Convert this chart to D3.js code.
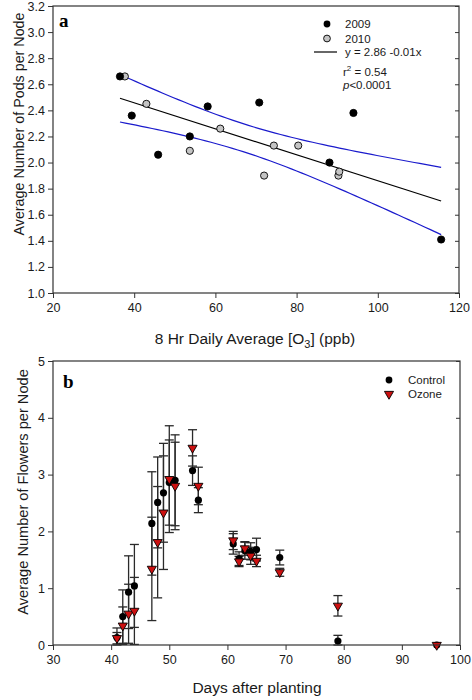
<!DOCTYPE html>
<html>
<head>
<meta charset="utf-8">
<script src="https://cdn.jsdelivr.net/npm/d3@7"></script>
<style>
  html, body { margin: 0; padding: 0; background: #fff; }
  svg { display: block; font-family: Arial, "Liberation Sans", sans-serif; }
</style>
</head>
<body>
<svg id="chart" width="472" height="700"></svg>
<script>
// ---------- Panel a data ----------
const o3_2009   = [36.5, 39.4, 45.9, 53.7, 58.1, 70.8, 88.1, 94.0, 115.6];
const pods_2009 = [2.66, 2.36, 2.06, 2.20, 2.43, 2.46, 2.00, 2.38, 1.41];
const o3_2010   = [37.7, 43.0, 53.7, 61.2, 72.0, 74.4, 80.4, 90.3, 90.5];
const pods_2010 = [2.66, 2.45, 2.09, 2.26, 1.90, 2.13, 2.13, 1.90, 1.93];
const xTicksA = [20, 40, 60, 80, 100, 120];
const yTicksA = [1.0, 1.2, 1.4, 1.6, 1.8, 2.0, 2.2, 2.4, 2.6, 2.8, 3.0, 3.2];
const tCrit = 2.12; // t(0.975, df=16)

// ---------- Panel b data ----------
const days       = [41, 42, 43, 44, 47, 48, 49, 50, 51, 54, 55, 61, 62, 63, 64, 65, 69, 79, 96];
const control    = [0.13, 0.50, 0.93, 1.04, 2.14, 2.51, 2.68, 2.86, 2.90, 3.07, 2.55, 1.78, 1.52, 1.66, 1.65, 1.68, 1.54, 0.07, 0.00];
const controlSE  = [0.17, 0.47, 0.64, 0.73, 0.91, 0.80, 0.87, 0.75, 0.80, 0.26, 0.22, 0.18, 0.12, 0.15, 0.15, 0.20, 0.13, 0.10, 0.00];
const ozone      = [0.12, 0.34, 0.55, 0.60, 1.34, 1.81, 2.33, 2.92, 2.80, 3.47, 2.80, 1.84, 1.47, 1.70, 1.57, 1.48, 1.28, 0.69, 0.00];
const ozoneSE    = [0.10, 0.33, 0.52, 0.59, 0.91, 0.98, 1.00, 0.94, 0.77, 0.32, 0.33, 0.16, 0.09, 0.12, 0.15, 0.10, 0.07, 0.18, 0.00];
const xTicksB = [30, 40, 50, 60, 70, 80, 90, 100];
const yTicksB = [0, 1, 2, 3, 4, 5];

const svg = d3.select("#chart");
const axisColor = "#333";
const textColor = "#1a1a1a";

function styleAxis(g) {
  g.select(".domain").remove();
  g.selectAll(".tick line").attr("stroke", axisColor).attr("stroke-width", 1);
  g.selectAll(".tick text").attr("fill", textColor).style("font-size", "12.5px")
    .style("font-family", "Arial, 'Liberation Sans', sans-serif");
}

// ================= Panel a =================
const xA = d3.scaleLinear().domain([20, 120]).range([53, 459]);
const yA = d3.scaleLinear().domain([1.0, 3.2]).range([293, 6]);

const gA = svg.append("g");

// regression from data
const allX = o3_2009.concat(o3_2010);
const allY = pods_2009.concat(pods_2010);
const n = allX.length;
const mx = d3.mean(allX), my = d3.mean(allY);
let sxx = 0, sxy = 0, syy = 0;
for (let i = 0; i < n; i++) {
  sxx += (allX[i] - mx) ** 2;
  sxy += (allX[i] - mx) * (allY[i] - my);
  syy += (allY[i] - my) ** 2;
}
const slope = sxy / sxx;
const intercept = my - slope * mx;
const sse = syy - sxy * sxy / sxx;
const s = Math.sqrt(sse / (n - 2));
const xMin = d3.min(allX), xMax = d3.max(allX);
const xs = d3.range(0, 61).map(i => xMin + (xMax - xMin) * i / 60);
const fit = x => intercept + slope * x;
const hw = x => tCrit * s * Math.sqrt(1 / n + (x - mx) ** 2 / sxx);

const lineA = d3.line().x(d => xA(d[0])).y(d => yA(d[1]));
gA.append("path").attr("d", lineA(xs.map(x => [x, fit(x) + hw(x)])))
  .attr("fill", "none").attr("stroke", "#1a1acc").attr("stroke-width", 1.2);
gA.append("path").attr("d", lineA(xs.map(x => [x, fit(x) - hw(x)])))
  .attr("fill", "none").attr("stroke", "#1a1acc").attr("stroke-width", 1.2);
gA.append("path").attr("d", lineA([[xMin, fit(xMin)], [xMax, fit(xMax)]]))
  .attr("fill", "none").attr("stroke", "#000").attr("stroke-width", 1.2);

// points
gA.selectAll(".p10").data(o3_2010.map((x, i) => [x, pods_2010[i]])).enter()
  .append("circle").attr("cx", d => xA(d[0])).attr("cy", d => yA(d[1])).attr("r", 3.6)
  .attr("fill", "#c4c4c4").attr("stroke", "#000").attr("stroke-width", 0.9);
gA.selectAll(".p09").data(o3_2009.map((x, i) => [x, pods_2009[i]])).enter()
  .append("circle").attr("cx", d => xA(d[0])).attr("cy", d => yA(d[1])).attr("r", 3.6)
  .attr("fill", "#000").attr("stroke", "#000").attr("stroke-width", 0.9);

// axes
gA.append("g").attr("transform", "translate(0,293)")
  .call(d3.axisBottom(xA).tickValues(xTicksA).tickSize(5).tickSizeOuter(0).tickPadding(5).tickFormat(d3.format("d")))
  .call(styleAxis);
gA.append("g").attr("transform", "translate(53,0)")
  .call(d3.axisLeft(yA).tickValues(yTicksA).tickSize(5).tickSizeOuter(0).tickPadding(3).tickFormat(d3.format(".1f")))
  .call(styleAxis);
gA.append("g").attr("transform", "translate(459,0)")
  .call(d3.axisRight(yA).tickValues(yTicksA).tickSize(-4).tickSizeOuter(0).tickFormat(""))
  .call(styleAxis);
gA.append("rect").attr("x", 53).attr("y", 6).attr("width", 406).attr("height", 287)
  .attr("fill", "none").attr("stroke", axisColor).attr("stroke-width", 1.2);

// labels
gA.append("text").attr("x", 59).attr("y", 27).text("a")
  .style("font-family", "'Liberation Serif', 'Times New Roman', serif").style("font-weight", "bold").style("font-size", "19px");
gA.append("text").attr("transform", "translate(24,124) rotate(-90)").attr("text-anchor", "middle")
  .attr("fill", textColor).style("font-size", "14.3px").text("Average Number of Pods per Node");
const xtA = gA.append("text").attr("x", 255).attr("y", 344).attr("text-anchor", "middle")
  .attr("fill", textColor).style("font-size", "15.5px");
xtA.append("tspan").text("8 Hr Daily Average [O");
xtA.append("tspan").attr("dy", 4).style("font-size", "11px").text("3");
xtA.append("tspan").attr("dy", -4).text("] (ppb)");

// legend a
const legA = gA.append("g").style("font-size", "11.5px").attr("fill", textColor);
legA.append("circle").attr("cx", 327).attr("cy", 24).attr("r", 3.4).attr("fill", "#000");
legA.append("text").attr("x", 345).attr("y", 28).text("2009");
legA.append("circle").attr("cx", 327).attr("cy", 38.5).attr("r", 3.4).attr("fill", "#c4c4c4").attr("stroke", "#000").attr("stroke-width", 0.9);
legA.append("text").attr("x", 345).attr("y", 42.5).text("2010");
legA.append("line").attr("x1", 314).attr("x2", 337).attr("y1", 52).attr("y2", 52).attr("stroke", "#000").attr("stroke-width", 1.2);
legA.append("text").attr("x", 345).attr("y", 56).text("y = 2.86 -0.01x");
const r2 = legA.append("text").attr("x", 343).attr("y", 76);
r2.append("tspan").text("r");
r2.append("tspan").attr("dy", -5).style("font-size", "8px").text("2");
r2.append("tspan").attr("dy", 5).text(" = 0.54");
const pt = legA.append("text").attr("x", 343).attr("y", 89);
pt.append("tspan").style("font-style", "italic").text("p");
pt.append("tspan").text("<0.0001");

// ================= Panel b =================
const xB = d3.scaleLinear().domain([30, 100]).range([53, 460]);
const yB = d3.scaleLinear().domain([0, 5]).range([645, 361]);
const gB = svg.append("g");

function errorBars(vals, ses) {
  const g = gB.append("g").attr("stroke", "#2a2a2a").attr("stroke-width", 1.3);
  days.forEach((d, i) => {
    if (ses[i] <= 0) return;
    const x = xB(d), y1 = yB(vals[i] + ses[i]), y0 = yB(Math.max(0, vals[i] - ses[i]));
    g.append("line").attr("x1", x).attr("x2", x).attr("y1", y1).attr("y2", y0);
    g.append("line").attr("x1", x - 4.5).attr("x2", x + 4.5).attr("y1", y1).attr("y2", y1);
    g.append("line").attr("x1", x - 4.5).attr("x2", x + 4.5).attr("y1", y0).attr("y2", y0);
  });
}
errorBars(control, controlSE);
errorBars(ozone, ozoneSE);

gB.selectAll(".ctl").data(days.map((d, i) => [d, control[i]])).enter()
  .append("circle").attr("cx", d => xB(d[0])).attr("cy", d => yB(d[1])).attr("r", 3.6)
  .attr("fill", "#000");
const tri = d3.symbol().type(d3.symbolTriangle).size(36);
gB.selectAll(".oz").data(days.map((d, i) => [d, ozone[i]])).enter()
  .append("path").attr("d", tri)
  .attr("transform", d => `translate(${xB(d[0])},${yB(d[1])}) rotate(180)`)
  .attr("fill", "#cc1010").attr("stroke", "#000").attr("stroke-width", 0.9);

gB.append("g").attr("transform", "translate(0,645)")
  .call(d3.axisBottom(xB).tickValues(xTicksB).tickSize(5).tickSizeOuter(0).tickPadding(5).tickFormat(d3.format("d")))
  .call(styleAxis);
gB.append("g").attr("transform", "translate(53,0)")
  .call(d3.axisLeft(yB).tickValues(yTicksB).tickSize(5).tickSizeOuter(0).tickPadding(3).tickFormat(d3.format("d")))
  .call(styleAxis);
gB.append("g").attr("transform", "translate(460,0)")
  .call(d3.axisRight(yB).tickValues(yTicksB).tickSize(-4).tickSizeOuter(0).tickFormat(""))
  .call(styleAxis);
gB.append("rect").attr("x", 53).attr("y", 361).attr("width", 407).attr("height", 284)
  .attr("fill", "none").attr("stroke", axisColor).attr("stroke-width", 1.2);

gB.append("text").attr("x", 63).attr("y", 388).text("b")
  .style("font-family", "'Liberation Serif', 'Times New Roman', serif").style("font-weight", "bold").style("font-size", "19px");
gB.append("text").attr("transform", "translate(28,492) rotate(-90)").attr("text-anchor", "middle")
  .attr("fill", textColor).style("font-size", "14.6px").text("Average Number of Flowers per Node");
gB.append("text").attr("x", 257).attr("y", 693).attr("text-anchor", "middle")
  .attr("fill", textColor).style("font-size", "15.5px").text("Days after planting");

const legB = gB.append("g").style("font-size", "11.5px").attr("fill", textColor);
legB.append("circle").attr("cx", 389).attr("cy", 380).attr("r", 3.4).attr("fill", "#000");
legB.append("text").attr("x", 408).attr("y", 384).text("Control");
legB.append("path").attr("d", tri).attr("transform", "translate(389,394) rotate(180)")
  .attr("fill", "#cc1010").attr("stroke", "#000").attr("stroke-width", 0.9);
legB.append("text").attr("x", 408).attr("y", 398).text("Ozone");
</script>
</body>
</html>
